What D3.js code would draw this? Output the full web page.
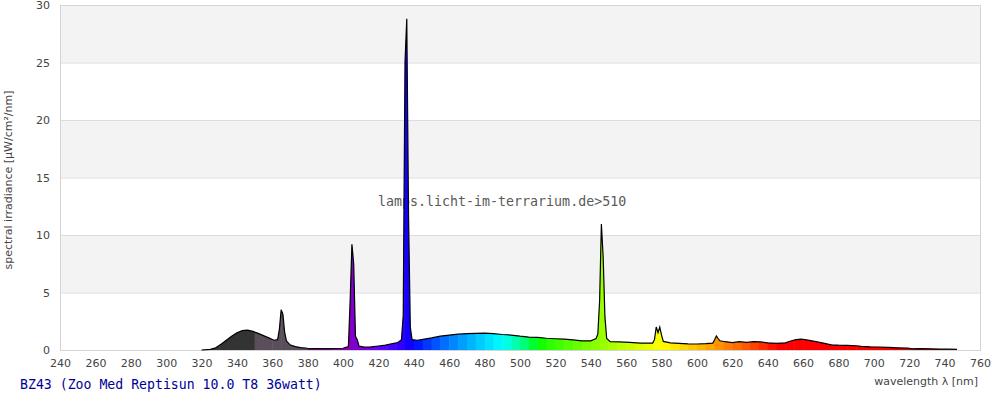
<!DOCTYPE html>
<html><head><meta charset="utf-8">
<script src="https://cdn.jsdelivr.net/npm/d3@7"></script>
<style>body{margin:0;background:#fff}svg{display:block}</style>
</head><body>
<svg id="c" width="1000" height="400"></svg>
<script>
const xTicks = [240,260,280,300,320,340,360,380,400,420,440,460,480,500,520,540,560,580,600,620,640,660,680,700,720,740,760];
const yTicks = [0,5,10,15,20,25,30];
const title = "BZ43 (Zoo Med Reptisun 10.0 T8 36watt)";
const watermark = "lamps.licht-im-terrarium.de>510";
const xLabel = "wavelength \u03bb [nm]";
const yLabel = "spectral irradiance [\u00b5W/cm\u00b2/nm]";
const wavelengths = [320,325,328,331,334,337,340,343,346,349,352,355,358,361,363,364,365,366,367,368,370,373,376,380,390,400,403,404,405,406,407,408,409,412,416,420,424,428,431,433,434,435,436,437,438,439,442,446,450,455,460,465,470,475,480,485,490,495,500,505,510,515,520,525,530,535,540,543,544,545,546,547,548,549,551,556,562,568,575,576,577,578,579,580,581,585,590,595,600,605,609,610,611,612,613,616,620,624,628,632,636,640,645,650,653,656,659,662,665,668,672,676,680,685,690,693,698,703,708,714,719,722,726,732,737,742,747];
const irradiance = [0,0.05,0.2,0.5,0.85,1.2,1.5,1.68,1.72,1.62,1.45,1.25,1.05,0.85,0.9,1.8,3.5,3.1,1.5,0.8,0.45,0.3,0.2,0.15,0.12,0.15,0.3,4.3,9.2,7.5,1.2,0.9,0.35,0.25,0.28,0.35,0.43,0.55,0.65,0.9,3.0,25.0,28.8,11.7,2.0,0.9,0.85,0.95,1.05,1.2,1.3,1.38,1.42,1.45,1.46,1.42,1.35,1.3,1.2,1.12,1.1,1.02,0.98,0.95,0.88,0.8,0.8,1.0,1.4,4.3,10.96,8.1,2.9,1.0,0.72,0.7,0.67,0.6,0.6,0.9,2.0,1.5,2.0,1.3,0.75,0.62,0.58,0.53,0.52,0.55,0.6,0.9,1.22,1.0,0.8,0.72,0.65,0.72,0.66,0.72,0.7,0.62,0.58,0.62,0.78,0.9,0.95,0.88,0.8,0.7,0.58,0.45,0.42,0.4,0.37,0.32,0.28,0.26,0.22,0.18,0.16,0.1,0.12,0.1,0.08,0.07,0.05];

const data = wavelengths.map((w,i)=>({w, v: irradiance[i]}));
const svg = d3.select("#c");
const m = {l:60, r:980, t:5, b:350};
const x = d3.scaleLinear().domain([240,760]).range([m.l, m.r]);
const y = d3.scaleLinear().domain([0,30]).range([m.b, m.t]);

// stripes
for (let i=0;i<yTicks.length-1;i++){
  if (i%2===1) svg.append("rect").attr("x",m.l).attr("width",m.r-m.l)
    .attr("y",y(yTicks[i+1])).attr("height",y(yTicks[i])-y(yTicks[i+1])).attr("fill","#f3f3f3");
}
svg.append("g").selectAll("line").data(yTicks.slice(1,-1)).join("line")
  .attr("x1",m.l).attr("x2",m.r).attr("y1",d=>y(d)+0.5).attr("y2",d=>y(d)+0.5)
  .attr("stroke","#dcdcdc");
svg.append("rect").attr("x",m.l+0.5).attr("y",m.t+0.5).attr("width",m.r-m.l).attr("height",m.b-m.t)
  .attr("fill","none").attr("stroke","#d4d4d4");

// axes labels
const xa = svg.append("g").attr("transform",`translate(0,${m.b})`)
  .call(d3.axisBottom(x).tickValues(xTicks).tickSize(0).tickPadding(9));
xa.select(".domain").remove();
xa.selectAll("text").attr("font-family","DejaVu Sans").attr("font-size",11).attr("fill","#444");
const ya = svg.append("g").attr("transform",`translate(${m.l},0)`)
  .call(d3.axisLeft(y).tickValues(yTicks).tickSize(0).tickPadding(10));
ya.select(".domain").remove();
ya.selectAll("text").attr("font-family","DejaVu Sans").attr("font-size",11).attr("fill","#444");

svg.append("text").attr("x",978).attr("y",385).attr("text-anchor","end")
  .attr("font-family","DejaVu Sans").attr("font-size",11).attr("fill","#444").text(xLabel);
svg.append("text").attr("transform","translate(12,180) rotate(-90)").attr("text-anchor","middle")
  .attr("font-family","DejaVu Sans").attr("font-size",11).attr("fill","#444").text(yLabel);
svg.append("text").attr("x",20).attr("y",389)
  .attr("font-family","DejaVu Sans Mono").attr("font-size",13.2).attr("fill","#000099").text(title);
svg.append("text").attr("x",378).attr("y",206)
  .attr("font-family","DejaVu Sans Mono").attr("font-size",13.3).attr("fill","#5a5a5a").text(watermark);

// wavelength colour
function wlColor(wl){
  if (wl < 350) return "#333333";
  if (wl < 380) return "#5a4e5a";
  let r=0,g=0,b=0;
  if (wl<440){r=-(wl-440)/60;b=1;}
  else if (wl<490){g=(wl-440)/50;b=1;}
  else if (wl<510){g=1;b=-(wl-510)/20;}
  else if (wl<580){r=(wl-510)/70;g=1;}
  else if (wl<645){r=1;g=-(wl-645)/65;}
  else {r=1;}
  let f=1;
  if (wl<420) f=0.3+0.7*(wl-380)/40;
  else if (wl>700) f=0.3+0.7*(780-wl)/80;
  const c = v => Math.round(255*Math.pow(v*f,0.8));
  return `rgb(${c(r)},${c(g)},${c(b)})`;
}

const area = d3.area().x(d=>x(d.w)).y0(y(0)).y1(d=>y(d.v));
svg.append("clipPath").attr("id","sp").append("path").attr("d",area(data));
const bands = d3.range(320,750,5);
svg.append("g").attr("clip-path","url(#sp)").selectAll("rect").data(bands).join("rect")
  .attr("x",d=>x(d)).attr("width",d=>x(d+5)-x(d)+0.5)
  .attr("y",m.t).attr("height",m.b-m.t)
  .attr("fill",d=>wlColor(d+2.5));
svg.append("path").attr("d",d3.line().x(d=>x(d.w)).y(d=>y(d.v))(data))
  .attr("fill","none").attr("stroke","#000").attr("stroke-width",1.2);
</script>
</body></html>
